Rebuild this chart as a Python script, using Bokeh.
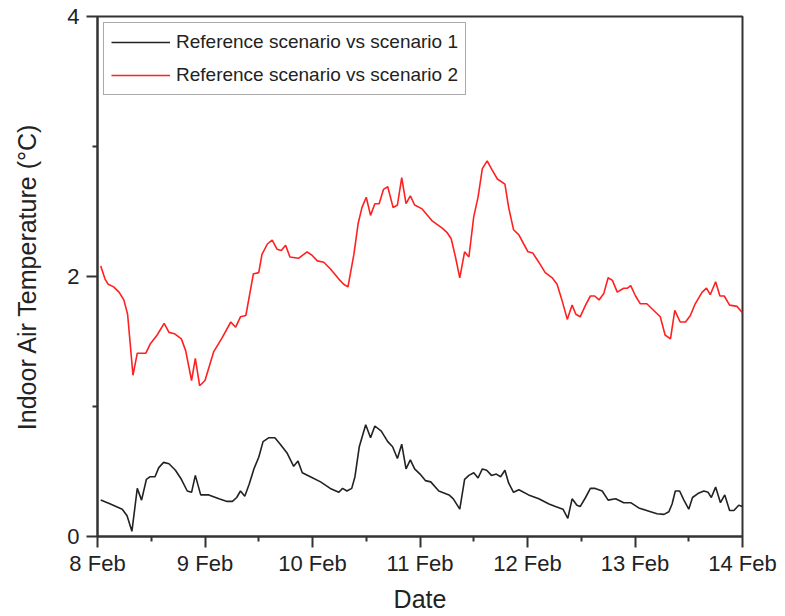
from bokeh.plotting import figure
from bokeh.models import Range1d, FixedTicker, Legend, LegendItem
from bokeh.embed import file_html
from bokeh.resources import INLINE

# x in days since 8 Feb 00:00
tick_labels = ["8 Feb", "9 Feb", "10 Feb", "11 Feb", "12 Feb", "13 Feb", "14 Feb"]
y_ticks = [0, 2, 4]

red_x = [0.03, 0.07, 0.10, 0.15, 0.20, 0.245, 0.28, 0.33, 0.37, 0.45, 0.49, 0.555, 0.62, 0.665, 0.715,
         0.78, 0.82, 0.875, 0.91, 0.95, 1.00, 1.08, 1.16, 1.24, 1.285, 1.33, 1.38, 1.45, 1.50, 1.53,
         1.58, 1.625, 1.67, 1.71, 1.75, 1.79, 1.87, 1.95, 2.00, 2.045, 2.105, 2.165, 2.245, 2.29, 2.33,
         2.385, 2.425, 2.46, 2.50, 2.54, 2.58, 2.62, 2.66, 2.70, 2.75, 2.79, 2.83, 2.87, 2.91, 2.95,
         3.02, 3.11, 3.21, 3.25, 3.29, 3.33, 3.37, 3.415, 3.455, 3.50, 3.54, 3.58, 3.625, 3.67, 3.72,
         3.79, 3.825, 3.87, 3.92, 3.965, 4.005, 4.05, 4.105, 4.165, 4.23, 4.275, 4.32, 4.37, 4.415, 4.45,
         4.49, 4.54, 4.585, 4.625, 4.665, 4.71, 4.75, 4.79, 4.835, 4.895, 4.93, 4.96, 5.005, 5.05, 5.11,
         5.16, 5.235, 5.28, 5.33, 5.37, 5.42, 5.47, 5.515, 5.56, 5.625, 5.665, 5.70, 5.75, 5.79, 5.83,
         5.88, 5.95, 6.00]
red_y = [2.08, 1.98, 1.94, 1.92, 1.88, 1.82, 1.71, 1.24, 1.41, 1.41, 1.48, 1.55, 1.64, 1.57, 1.56,
         1.52, 1.43, 1.20, 1.37, 1.16, 1.20, 1.42, 1.53, 1.65, 1.61, 1.69, 1.70, 2.02, 2.03, 2.17,
         2.25, 2.28, 2.21, 2.20, 2.24, 2.15, 2.14, 2.19, 2.16, 2.12, 2.11, 2.06, 1.98, 1.94, 1.92,
         2.17, 2.41, 2.53, 2.61, 2.47, 2.56, 2.56, 2.67, 2.69, 2.53, 2.55, 2.76, 2.56, 2.62, 2.55,
         2.52, 2.43, 2.37, 2.34, 2.29, 2.15, 1.99, 2.19, 2.15, 2.46, 2.61, 2.83, 2.89, 2.82, 2.75,
         2.71, 2.53, 2.36, 2.32, 2.25, 2.19, 2.18, 2.11, 2.03, 1.99, 1.94, 1.82, 1.67, 1.78, 1.71,
         1.69, 1.78, 1.85, 1.85, 1.82, 1.87, 1.99, 1.97, 1.88, 1.91, 1.91, 1.93, 1.85, 1.79, 1.79,
         1.75, 1.69, 1.55, 1.52, 1.74, 1.65, 1.65, 1.70, 1.79, 1.88, 1.91, 1.86, 1.96, 1.85, 1.85,
         1.78, 1.77, 1.72]

black_x = [0.03, 0.12, 0.23, 0.275, 0.32, 0.37, 0.41, 0.455, 0.49, 0.535, 0.57, 0.615, 0.665, 0.725, 0.78,
           0.835, 0.875, 0.91, 0.96, 1.035, 1.13, 1.205, 1.255, 1.295, 1.33, 1.37, 1.41, 1.455, 1.50, 1.54,
           1.595, 1.65, 1.70, 1.765, 1.825, 1.865, 1.905, 1.98, 2.075, 2.165, 2.245, 2.28, 2.32, 2.365, 2.395,
           2.435, 2.495, 2.54, 2.58, 2.64, 2.70, 2.745, 2.79, 2.83, 2.87, 2.91, 2.95, 3.00, 3.05, 3.10,
           3.175, 3.27, 3.31, 3.37, 3.415, 3.455, 3.50, 3.54, 3.58, 3.62, 3.665, 3.71, 3.75, 3.79, 3.825,
           3.87, 3.92, 4.01, 4.105, 4.20, 4.26, 4.33, 4.375, 4.415, 4.46, 4.49, 4.54, 4.585, 4.63, 4.695,
           4.75, 4.82, 4.895, 4.96, 5.035, 5.13, 5.205, 5.27, 5.315, 5.345, 5.375, 5.415, 5.455, 5.50, 5.535,
           5.585, 5.64, 5.68, 5.71, 5.75, 5.795, 5.835, 5.88, 5.92, 5.965, 6.00]
black_y = [0.28, 0.25, 0.21, 0.16, 0.04, 0.37, 0.28, 0.44, 0.46, 0.46, 0.53, 0.57, 0.56, 0.51, 0.44,
           0.35, 0.34, 0.47, 0.32, 0.32, 0.29, 0.27, 0.27, 0.30, 0.35, 0.31, 0.40, 0.52, 0.61, 0.73,
           0.76, 0.76, 0.71, 0.64, 0.54, 0.58, 0.49, 0.46, 0.42, 0.37, 0.34, 0.37, 0.35, 0.37, 0.46,
           0.69, 0.86, 0.76, 0.85, 0.81, 0.73, 0.69, 0.60, 0.71, 0.52, 0.59, 0.52, 0.48, 0.43, 0.42,
           0.35, 0.32, 0.29, 0.21, 0.44, 0.47, 0.49, 0.45, 0.52, 0.51, 0.47, 0.48, 0.46, 0.51, 0.41,
           0.34, 0.36, 0.32, 0.29, 0.25, 0.23, 0.21, 0.14, 0.29, 0.24, 0.23, 0.30, 0.37, 0.37, 0.35,
           0.28, 0.29, 0.26, 0.26, 0.22, 0.195, 0.175, 0.17, 0.19, 0.25, 0.35, 0.35, 0.28, 0.21, 0.30,
           0.33, 0.35, 0.34, 0.30, 0.38, 0.26, 0.32, 0.20, 0.20, 0.24, 0.23]

series_labels = ["Reference scenario vs scenario 1", "Reference scenario vs scenario 2"]

FONT = "Liberation Sans"

p = figure(width=785, height=616, output_backend="svg", toolbar_location=None,
           x_range=Range1d(0, 6), y_range=Range1d(0, 4),
           min_border_left=97, min_border_right=43, min_border_top=16, min_border_bottom=80)
p.background_fill_color = "white"
p.border_fill_color = "white"
p.grid.visible = False
p.outline_line_color = "#333333"
p.outline_line_width = 2

r1 = p.line(black_x, black_y, line_color="#222222", line_width=1.6)
r2 = p.line(red_x, red_y, line_color="#ff2020", line_width=1.6)

p.xaxis.ticker = FixedTicker(ticks=list(range(len(tick_labels))),
                             minor_ticks=[i + 0.5 for i in range(len(tick_labels) - 1)])
p.xaxis.major_label_overrides = {i: lab for i, lab in enumerate(tick_labels)}
p.yaxis.ticker = FixedTicker(ticks=y_ticks, minor_ticks=[1, 3])

p.xaxis.axis_label = "Date"
p.yaxis.axis_label = "Indoor Air Temperature (°C)"

for ax in (p.xaxis, p.yaxis):
    ax.axis_line_color = "#333333"
    ax.axis_line_width = 2
    ax.major_tick_line_color = "#333333"
    ax.minor_tick_line_color = "#333333"
    ax.major_tick_line_width = 2
    ax.minor_tick_line_width = 2
    ax.major_tick_in = 0
    ax.major_tick_out = 11
    ax.minor_tick_in = 0
    ax.minor_tick_out = 5
    ax.major_label_text_font = FONT
    ax.major_label_text_font_size = "22px"
    ax.major_label_text_color = "#222222"
    ax.axis_label_text_font = FONT
    ax.axis_label_text_font_size = "25px"
    ax.axis_label_text_font_style = "normal"
    ax.axis_label_text_color = "#222222"

p.xaxis.major_label_standoff = 3
p.xaxis.axis_label_standoff = 6
p.yaxis.major_label_standoff = 7
p.yaxis.axis_label_standoff = 23

legend = Legend(items=[LegendItem(label=series_labels[0], renderers=[r1]),
                       LegendItem(label=series_labels[1], renderers=[r2])],
                location="top_left", margin=6, padding=7, spacing=9,
                glyph_width=59, glyph_height=24, label_standoff=6,
                label_text_font=FONT, label_text_font_size="19px", label_text_color="#222222",
                border_line_color="#555555", border_line_width=1.5,
                background_fill_alpha=1.0)
p.add_layout(legend)

open("out.html", "w").write(file_html(p, INLINE))
